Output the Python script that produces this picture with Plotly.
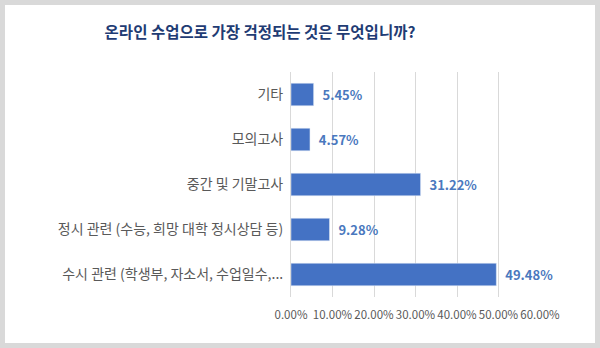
import plotly.graph_objects as go

categories = [
    "수시 관련 (학생부, 자소서, 수업일수,...",
    "정시 관련 (수능, 희망 대학 정시상담 등)",
    "중간 및 기말고사",
    "모의고사",
    "기타",
]
values = [0.4948, 0.0928, 0.3122, 0.0457, 0.0545]
tick_vals = [0, 0.1, 0.2, 0.3, 0.4, 0.5, 0.6]

W, H = 600, 348
L, R, T, B = 291, 60, 72, 51
pw, ph = W - L - R, H - T - B

def px_x(p):
    return (p - L) / pw

def px_y(p):
    return (H - B - p) / ph

font_family = "Noto Sans CJK KR"

fig = go.Figure(
    go.Bar(
        x=values,
        y=categories,
        orientation="h",
        marker=dict(color="#4472C4"),
        width=0.5,
        texttemplate="  %{x:.2%}",
        textposition="outside",
        textfont=dict(color="#4A78BE", size=13, family=font_family, weight="bold"),
        cliponaxis=False,
    )
)

fig.update_layout(
    width=W,
    height=H,
    margin=dict(l=L, r=R, t=T, b=B),
    paper_bgcolor="#d9d9d9",
    plot_bgcolor="rgba(0,0,0,0)",
    showlegend=False,
    title=dict(
        text="<b>온라인 수업으로 가장 걱정되는 것은 무엇입니까?</b>",
        x=260 / W,
        xanchor="center",
        y=1 - 33 / H,
        yanchor="middle",
        font=dict(size=15.5, color="#1F3C74", family=font_family),
    ),
    font=dict(family=font_family, color="#595959"),
    shapes=[
        dict(
            type="rect",
            xref="paper",
            yref="paper",
            x0=px_x(5),
            x1=px_x(595),
            y0=px_y(343),
            y1=px_y(5),
            fillcolor="white",
            line=dict(width=0),
            layer="below",
        )
    ],
)

fig.update_xaxes(
    range=[0, 0.6],
    tickvals=tick_vals,
    tickformat=".2%",
    showgrid=True,
    gridcolor="#d9d9d9",
    gridwidth=1,
    zeroline=False,
    showline=False,
    tickfont=dict(size=11.5, color="#595959"),
    tickangle=0,
    ticks="",
    ticklabelstandoff=9,
)
fig.update_yaxes(
    showline=True,
    linecolor="#d9d9d9",
    linewidth=1,
    ticks="",
    tickfont=dict(size=14, color="#595959"),
    ticklabelstandoff=4,
)

fig.write_html("out.html")
